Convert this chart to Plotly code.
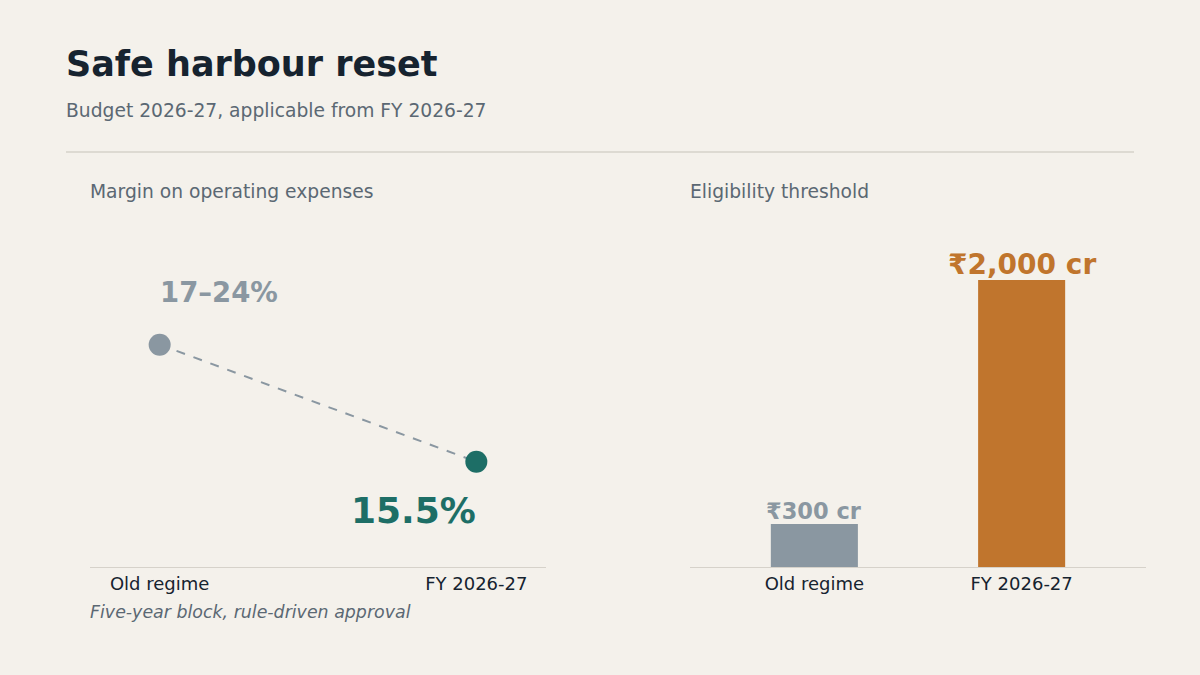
import plotly.graph_objects as go
from plotly.subplots import make_subplots

periods = ["Old regime", "FY 2026-27"]
margin_pct = [20.5, 15.5]  # old regime band 17–24% plotted at its midpoint
margin_labels = ["17–24%", "15.5%"]
threshold_cr = [300, 2000]
threshold_labels = ["₹300 cr", "₹2,000 cr"]

BG = "#f4f1eb"
INK = "#16232f"
MUTED = "#5b6873"
GREY = "#8a97a1"
TEAL = "#1d6e66"
ORANGE = "#c0752d"
RULE = "#d6d2ca"
FONT = "DejaVu Sans"

W, H = 1200, 675


def px_x(p):
    return p / W


def px_y(p):
    return 1 - p / H


fig = make_subplots(rows=1, cols=2)

# left: margin line
fig.add_scatter(
    x=periods, y=margin_pct, mode="lines",
    line=dict(color=GREY, width=2, dash="dash"),
    hoverinfo="skip", row=1, col=1,
)
fig.add_scatter(
    x=periods, y=margin_pct, mode="markers",
    marker=dict(size=22, color=[GREY, TEAL]),
    row=1, col=1,
)

# right: threshold bars
fig.add_bar(
    x=periods, y=threshold_cr, width=0.42,
    marker=dict(color=[GREY, ORANGE], line=dict(width=0)),
    row=1, col=2,
)

fig.add_annotation(
    x=periods[0], y=margin_pct[0], xref="x", yref="y",
    text=margin_labels[0], showarrow=False, xanchor="left", yanchor="middle",
    xshift=-2, yshift=53,
    font=dict(family=FONT, size=27.5, color=GREY, weight="bold"),
)
fig.add_annotation(
    x=periods[1], y=margin_pct[1], xref="x", yref="y",
    text=margin_labels[1], showarrow=False, xanchor="right", yanchor="middle",
    xshift=2, yshift=-49,
    font=dict(family=FONT, size=36, color=TEAL, weight="bold"),
)
for cat, val, lab, size, col, dy in zip(periods, threshold_cr, threshold_labels,
                                        [22.5, 28], [GREY, ORANGE], [-2, -3]):
    fig.add_annotation(
        x=cat, y=val, xref="x2", yref="y2", text=lab, showarrow=False,
        xanchor="center", yanchor="bottom", yshift=dy,
        font=dict(family=FONT, size=size, color=col, weight="bold"),
    )

# titles and notes
texts = [
    ("Safe harbour reset", 64, 64, 35, INK, "bold", "normal"),
    ("Budget 2026-27, applicable from FY 2026-27", 64, 111, 18.7, MUTED, "normal", "normal"),
    ("Margin on operating expenses", 88, 191, 18.7, MUTED, "normal", "normal"),
    ("Eligibility threshold", 688, 191, 18.7, MUTED, "normal", "normal"),
    ("Five-year block, rule-driven approval", 88, 612, 17.4, MUTED, "normal", "italic"),
]
for t, x, y, size, col, wt, st in texts:
    fig.add_annotation(
        x=px_x(x), y=px_y(y), xref="paper", yref="paper", text=t,
        showarrow=False, xanchor="left", yanchor="middle",
        font=dict(family=FONT, size=size, color=col, weight=wt, style=st),
    )

fig.add_shape(
    type="line", xref="paper", yref="paper",
    x0=px_x(66), x1=px_x(1134), y0=px_y(152), y1=px_y(152),
    line=dict(color=RULE, width=1.5),
)

ydom = [px_y(567), px_y(230)]
axis_common = dict(
    showgrid=False, zeroline=False, showline=True, linecolor=RULE, linewidth=1,
    ticks="", tickfont=dict(family=FONT, size=18, color=INK), fixedrange=True,
)
fig.update_layout(
    width=W, height=H,
    margin=dict(l=0, r=0, t=0, b=0),
    paper_bgcolor=BG, plot_bgcolor=BG,
    showlegend=False,
    font=dict(family=FONT),
    xaxis=dict(domain=[px_x(90), px_x(546)], range=[-0.22, 1.22], **axis_common),
    xaxis2=dict(domain=[px_x(690), px_x(1146)], range=[-0.6, 1.6], **axis_common),
    yaxis=dict(domain=ydom, range=[11.0, 25.4], visible=False),
    yaxis2=dict(domain=ydom, range=[0, 2348], visible=False),
)

# drop the browser's default body margin so the figure sits at 0,0
fig.write_html(
    "out.html",
    config={"displayModeBar": False},
    post_script="document.body.style.margin='0';",
)
